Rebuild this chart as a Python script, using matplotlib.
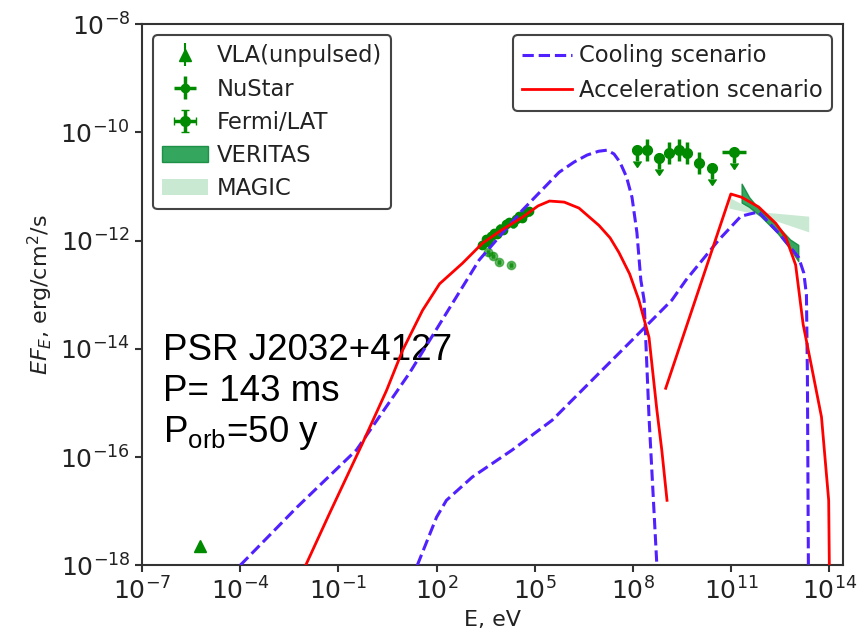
import numpy as np
import matplotlib.pyplot as plt

# values, as log10(E/eV) and log10(EF_E)
# cooling scenario, synchrotron part
cool_syn_logE = [-4.0, -2.27, -0.45, 1.17, 2.30, 3.30, 4.62, 5.74, 6.2, 6.6,
                 6.95, 7.21, 7.42, 7.6, 7.8, 7.97, 8.12, 8.24, 8.34, 8.49, 8.73]
cool_syn_logF = [-18.0, -16.93, -15.87, -14.45, -13.34, -12.36, -11.44, -10.74,
                 -10.55, -10.42, -10.35, -10.33, -10.40, -10.55, -10.82, -11.2,
                 -11.85, -12.73, -13.1, -15.26, -18.0]
# cooling scenario, inverse Compton part
cool_ic_logE = [1.41, 2.0, 2.30, 3.09, 4.31, 5.53, 6.75, 8.27, 9.19, 9.62,
                10.62, 11.3, 11.84, 12.45, 13.06, 13.22, 13.30, 13.33, 13.36]
cool_ic_logF = [-18.0, -17.11, -16.8, -16.37, -15.87, -15.32, -14.58, -13.66,
                -13.1, -12.73, -11.99, -11.55, -11.47, -11.86, -12.31, -12.6,
                -13.0, -14.5, -18.0]
# acceleration scenario
acc_syn_logE = [-2.0, -1.27, -0.26, 0.47, 0.96, 1.57, 2.09, 2.79, 3.40, 4.0,
                4.62, 5.1, 5.45, 5.9, 6.35, 6.96, 7.3, 7.57, 7.9, 8.18, 8.49,
                8.73, 8.88, 9.04]
acc_syn_logF = [-18.0, -17.04, -15.74, -14.77, -14.03, -13.29, -12.80, -12.42,
                -12.05, -11.80, -11.57, -11.36, -11.27, -11.29, -11.40, -11.72,
                -11.95, -12.22, -12.62, -13.1, -13.79, -15.13, -15.87, -16.8]
acc_ic_logE = [9.0, 10.99, 11.32, 11.84, 12.36, 12.67, 12.97, 13.2, 13.46,
               13.76, 13.98, 14.0]
acc_ic_logF = [-14.73, -11.14, -11.2, -11.38, -11.68, -11.94, -12.45, -13.55,
               -14.34, -15.26, -16.8, -18.0]

# observations
vla_logE = [-5.23]
vla_logF = [-17.65]

nustar_logE = [3.40, 3.50, 3.58, 3.66, 3.75, 3.84, 3.93, 4.02, 4.12, 4.22,
               4.32, 4.42, 4.52, 4.62, 4.72, 4.82]
nustar_logF = [-12.08, -11.98, -12.02, -11.92, -11.86, -11.88, -11.78, -11.80,
               -11.70, -11.66, -11.68, -11.60, -11.55, -11.58, -11.48, -11.46]
nustar_low_logE = [3.58, 3.72, 3.91, 4.28]
nustar_low_logF = [-12.22, -12.28, -12.40, -12.45]

fermi_logE = [8.12, 8.43, 8.79, 9.10, 9.40, 9.65, 10.01, 10.41, 11.08]
fermi_logF = [-10.33, -10.33, -10.48, -10.38, -10.33, -10.38, -10.57, -10.66, -10.37]
fermi_dE = [0.15, 0.15, 0.15, 0.15, 0.15, 0.15, 0.15, 0.15, 0.37]
fermi_ul = [True, False, True, False, False, False, False, True, True]

veritas_logE = [11.32, 11.55, 11.9, 12.4, 12.8, 13.05]
veritas_hi = [-10.95, -11.2, -11.45, -11.72, -11.98, -12.08]
veritas_lo = [-11.30, -11.38, -11.55, -11.85, -12.15, -12.38]

magic_logE = [10.93, 11.75, 13.37]
magic_hi = [-11.20, -11.46, -11.55]
magic_lo = [-11.40, -11.51, -11.84]


def p(v):
    return 10 ** np.asarray(v, dtype=float)


def asym(logv, d):
    logv = np.asarray(logv, dtype=float)
    d = np.asarray(d, dtype=float)
    return [10 ** logv - 10 ** (logv - d), 10 ** (logv + d) - 10 ** logv]


green = '#008a00'
blue = '#5020ff'
dark = '#222222'

fig = plt.figure(figsize=(8.61, 6.33), dpi=100)
ax = fig.add_axes([0.165, 0.107, 0.814, 0.855])

h_mag = ax.fill_between(p(magic_logE), p(magic_lo), p(magic_hi),
                        color='#9fd8ae', alpha=0.55, lw=0, zorder=1)
h_ver = ax.fill_between(p(veritas_logE), p(veritas_lo), p(veritas_hi),
                        facecolor='#1f9d4c', edgecolor='#118a3e', alpha=0.9,
                        lw=1, zorder=1.5)

h_vla = ax.errorbar(p(vla_logE), p(vla_logF), yerr=asym(vla_logF, [0.08]),
                    fmt='^', color=green, ms=8, elinewidth=1.5, capsize=0, zorder=3)
h_nu = ax.errorbar(p(nustar_logE), p(nustar_logF),
                   xerr=asym(nustar_logE, [0.06] * len(nustar_logE)),
                   yerr=asym(nustar_logF, [0.08] * len(nustar_logF)),
                   fmt='o', color=green, ms=6, elinewidth=2.5, capsize=0, zorder=3)
ax.errorbar(p(nustar_low_logE), p(nustar_low_logF),
            xerr=asym(nustar_low_logE, [0.06] * len(nustar_low_logE)),
            yerr=asym(nustar_low_logF, [0.06] * len(nustar_low_logF)),
            fmt='o', color=green, ms=6, elinewidth=2.5, capsize=0, alpha=0.55, zorder=3)
h_fe = ax.errorbar(p(fermi_logE), p(fermi_logF),
                   xerr=asym(fermi_logE, fermi_dE),
                   yerr=asym(fermi_logF, [0.2] * len(fermi_logF)),
                   uplims=fermi_ul, fmt='o', color=green, ms=7,
                   elinewidth=2.5, capsize=0, zorder=3)

l_cool, = ax.plot(p(cool_syn_logE), p(cool_syn_logF), '--', color=blue, lw=2.2, zorder=4)
ax.plot(p(cool_ic_logE), p(cool_ic_logF), '--', color=blue, lw=2.2, zorder=4)
l_acc, = ax.plot(p(acc_syn_logE), p(acc_syn_logF), '-', color='red', lw=2, zorder=4)
ax.plot(p(acc_ic_logE), p(acc_ic_logF), '-', color='red', lw=2, zorder=4)

ax.set_xscale('log')
ax.set_yscale('log')
ax.set_xlim(1e-7, 2.6e14)
ax.set_ylim(1e-18, 1e-8)
ax.set_xticks([1e-7, 1e-4, 1e-1, 1e2, 1e5, 1e8, 1e11, 1e14])
ax.set_yticks([1e-18, 1e-16, 1e-14, 1e-12, 1e-10, 1e-8])
ax.minorticks_off()
ax.tick_params(direction='out', length=5, width=1.5, labelsize=18,
               color='#333333', labelcolor=dark)
for s in ax.spines.values():
    s.set_linewidth(1.5)
    s.set_color('#333333')

ax.set_xlabel('E, eV', fontsize=16, color=dark)
ax.set_ylabel(r'$EF_E$, erg/cm$^2$/s', fontsize=16, color=dark)

leg1 = ax.legend([h_vla, h_nu, h_fe, h_ver, h_mag],
                 ['VLA(unpulsed)', 'NuStar', 'Fermi/LAT', 'VERITAS', 'MAGIC'],
                 loc='upper left', fontsize=16.3, framealpha=1,
                 edgecolor='#444444', handletextpad=0.4, labelspacing=0.45)
leg1.get_frame().set_linewidth(1.5)
for t in leg1.get_texts():
    t.set_color(dark)
ax.add_artist(leg1)
leg2 = ax.legend([l_cool, l_acc], ['Cooling scenario', 'Acceleration scenario'],
                 loc='upper right', fontsize=16.3, framealpha=1,
                 edgecolor='#444444', handletextpad=0.3, labelspacing=0.5,
                 handlelength=2.2)
leg2.get_frame().set_linewidth(1.5)
for t in leg2.get_texts():
    t.set_color(dark)

txt = dict(transform=ax.transAxes, fontsize=26.5, family='Liberation Sans',
           ha='left', va='baseline')
ax.text(0.03, 0.379, 'PSR J2032+4127', **txt)
ax.text(0.03, 0.303, 'P= 143 ms', **txt)
ax.text(0.03, 0.227, r'P$_{\mathdefault{orb}}$=50 y', **txt)

fig.savefig('out.png', dpi=100)
